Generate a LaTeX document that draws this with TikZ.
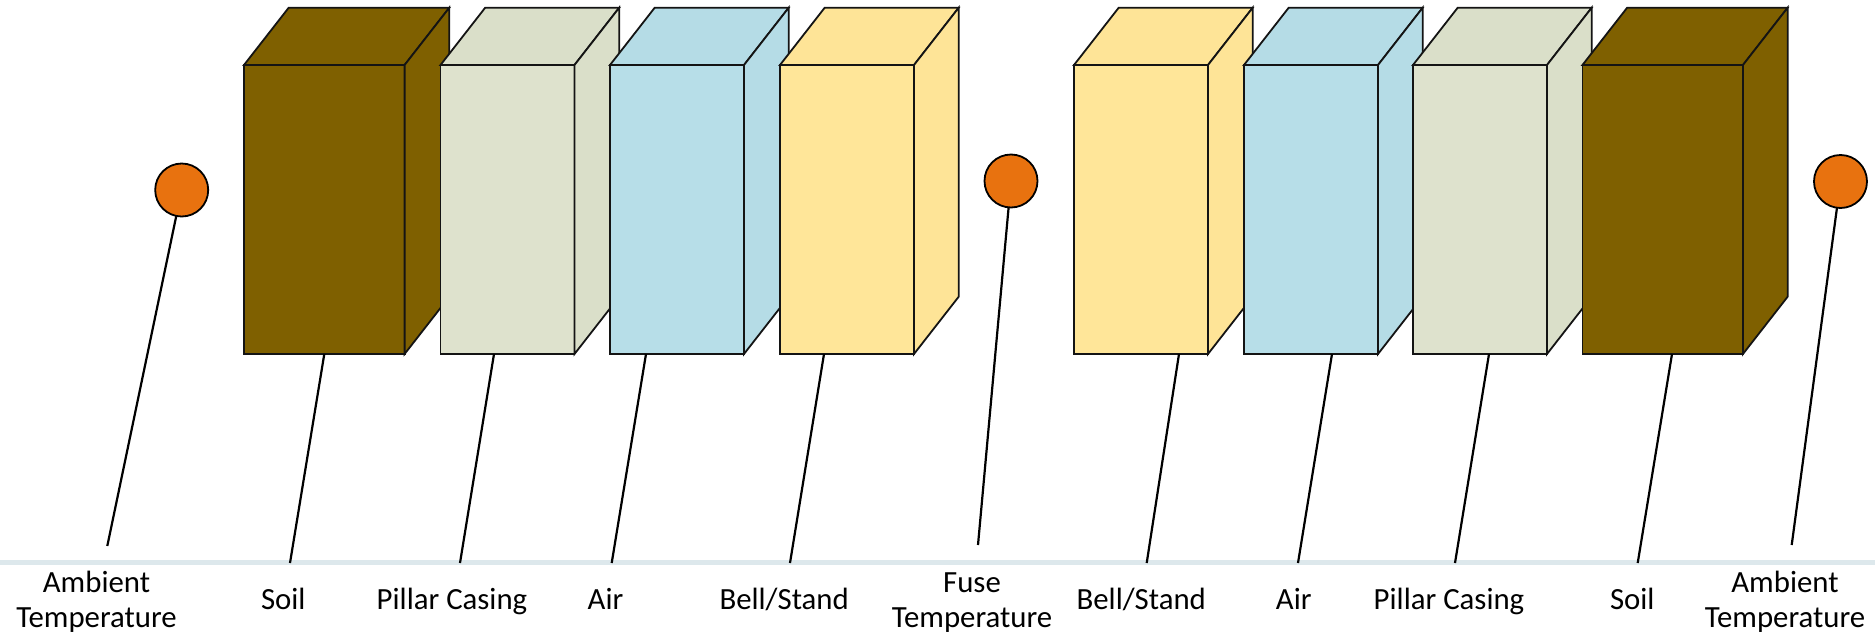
\documentclass[tikz,border=0pt]{standalone}
\usepackage{fontspec}
\setmainfont{Carlito}
\usetikzlibrary{calc}

\definecolor{soilbrown}{HTML}{7F6000}
\definecolor{casingfront}{HTML}{DEE2CD}
\definecolor{casingside}{HTML}{DADFC9}
\definecolor{airfront}{HTML}{B7DEE8}
\definecolor{airside}{HTML}{B5DCE6}
\definecolor{bellfront}{HTML}{FFE699}
\definecolor{bellside}{HTML}{FEE497}
\definecolor{probeorange}{HTML}{E8720F}
\definecolor{groundbar}{HTML}{DDE8EC}

\tikzset{
  blockface/.style={draw=black!92, line width=1.8pt, line join=miter},
  block/.style={blockface, rectangle, inner sep=0pt, outer sep=0pt, minimum height=289pt},
  probe/.style={circle, draw=black, line width=1.8pt, fill=probeorange,
                minimum size=53pt, inner sep=0pt, outer sep=0pt},
  lead/.style={line width=2.2pt, black},
  tag/.style={font=\fontsize{30.8}{35}\selectfont, inner sep=0pt, align=center},
}

% a layer block: front face as a node, top and right faces drawn behind-right
% #1 name, #2 centre x, #3 width, #4 front colour, #5 side colour
\newcommand\drawblock[5]{%
  \node[block, fill=#4, minimum width=#3pt] (#1) at (#2,209.5) {};
  \draw[blockface, fill=#5] (#1.north west) -- ++(44.7,-57.3)
      -- ($(#1.north east)+(44.7,-57.3)$) -- (#1.north east) -- cycle;
  \draw[blockface, fill=#5] (#1.north east) -- ++(44.7,-57.3)
      -- ++(0,289) -- (#1.south east) -- cycle;
}

\begin{document}
\begin{tikzpicture}[x=1pt, y=-1pt]
\useasboundingbox (0,0) rectangle (1875,635);

% layer blocks, left half then right half
\drawblock{soilL}{324.3}{160.6}{soilbrown}{soilbrown}
\drawblock{casingL}{507.5}{134}{casingfront}{casingside}
\drawblock{airL}{677}{134}{airfront}{airside}
\drawblock{bellL}{847}{134}{bellfront}{bellside}
\drawblock{bellR}{1141}{134}{bellfront}{bellside}
\drawblock{airR}{1311}{134}{airfront}{airside}
\drawblock{casingR}{1480}{134}{casingfront}{casingside}
\drawblock{soilR}{1662.7}{160.5}{soilbrown}{soilbrown}

% temperature probes
\node[probe] (ambL) at (181.7,190) {};
\node[probe] (fuse) at (1011,181) {};
\node[probe] (ambR) at (1840.5,181.5) {};

% ground line
\draw[groundbar, line width=5pt] (0,562.5) -- (1875,562.5);

% lead end points
\coordinate (eAmbL) at (107.3,546);
\coordinate (eSoilL) at (290,563);
\coordinate (eCasingL) at (460,563);
\coordinate (eAirL) at (611.7,563);
\coordinate (eBellL) at (790,563);
\coordinate (eFuse) at (978,545);
\coordinate (eBellR) at (1146.7,563);
\coordinate (eAirR) at (1298,563);
\coordinate (eCasingR) at (1455,563);
\coordinate (eSoilR) at (1637.7,563);
\coordinate (eAmbR) at (1791.7,545);

% leads
\draw[lead] (ambL) -- (eAmbL);
\draw[lead] (soilL.south) -- (eSoilL);
\draw[lead] ([xshift=-13.5pt]casingL.south) -- (eCasingL);
\draw[lead] ([xshift=-31pt]airL.south) -- (eAirL);
\draw[lead] ([xshift=-23pt]bellL.south) -- (eBellL);
\draw[lead] (fuse) -- (eFuse);
\draw[lead] ([xshift=38pt]bellR.south) -- (eBellR);
\draw[lead] ([xshift=21pt]airR.south) -- (eAirR);
\draw[lead] ([xshift=9pt]casingR.south) -- (eCasingR);
\draw[lead] ([xshift=9.3pt]soilR.south) -- (eSoilR);
\draw[lead] (ambR) -- (eAmbR);

% labels
\node[tag, anchor=base] (tAmbL) at (96.5,627) {Ambient\\Temperature};
\node[tag, anchor=base] (tSoilL) at (283.3,609) {Soil};
\node[tag, anchor=base] (tCasingL) at (452,609) {Pillar Casing};
\node[tag, anchor=base] (tAirL) at (605.5,609) {Air};
\node[tag, anchor=base] (tBellL) at (784.2,609) {Bell/Stand};
\node[tag, anchor=base] (tFuse) at (972,627) {Fuse\\Temperature};
\node[tag, anchor=base] (tBellR) at (1141.3,609) {Bell/Stand};
\node[tag, anchor=base] (tAirR) at (1293.8,609) {Air};
\node[tag, anchor=base] (tCasingR) at (1449,609) {Pillar Casing};
\node[tag, anchor=base] (tSoilR) at (1632.3,609) {Soil};
\node[tag, anchor=base] (tAmbR) at (1785,627) {Ambient\\Temperature};
\end{tikzpicture}
\end{document}
